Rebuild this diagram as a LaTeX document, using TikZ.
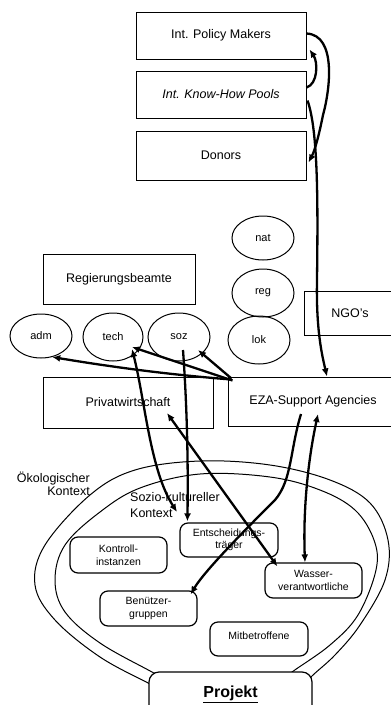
\documentclass[tikz,border=0pt]{standalone}
\usepackage{fontspec}
\setmainfont{Liberation Sans}
\usetikzlibrary{shapes.geometric,arrows.meta,calc}
\begin{document}
\begin{tikzpicture}[x=1pt,y=-1pt,
 sq/.style={draw,line width=1pt,inner sep=0pt,font=\fontsize{12.5}{14}\selectfont},
 ov/.style={draw,ellipse,line width=1pt,inner sep=0pt,font=\fontsize{11}{13}\selectfont},
 rb/.style={draw,rounded corners=8pt,line width=1.2pt,inner sep=0pt,align=center,fill=white,
   font=\fontsize{10.5}{12.5}\selectfont},
 ar/.style={line width=2.3pt,-{Latex[length=8pt,width=7pt]}},
 dar/.style={line width=2.3pt,{Latex[length=8pt,width=7pt]}-{Latex[length=8pt,width=7pt]}},
 ctx/.style={inner sep=0pt}]
\useasboundingbox (0,0) rectangle (391,705);

% top boxes
\node[sq,minimum width=170pt,minimum height=47pt] (pm) at (221,35.5) {Int. Policy Makers};
\node[sq,minimum width=170pt,minimum height=47pt] (kh) at (221,94.5) {\itshape Int. Know-How Pools};
\node[sq,minimum width=170pt,minimum height=49pt] (don) at (221,155.5) {Donors};

% right ovals
\node[ov,minimum width=62pt,minimum height=44pt] (nat) at (263,238) {nat};
\node[ov,minimum width=62pt,minimum height=48pt] (reg) at (263,293) {reg};
\node[ov,minimum width=62pt,minimum height=48pt] (lok) at (259,340) {lok};
\node[sq,minimum width=92pt,minimum height=44pt] (ngo) at (350,313) {NGO's};

% left
\node[sq,minimum width=152pt,minimum height=50pt] (regb) at (119,279) {Regierungsbeamte};
\node[ov,minimum width=62pt,minimum height=44pt] (adm) at (41,336) {adm};
\node[ov,minimum width=60pt,minimum height=48pt] (tech) at (113,337) {tech};
\node[ov,minimum width=62pt,minimum height=48pt] (soz) at (179,337) {soz};

\node[sq,minimum width=170pt,minimum height=51pt] (priv) at (128,402.5) {Privatwirtschaft};
\node[sq,minimum width=170pt,minimum height=49pt] (eza) at (313,401.5) {EZA-Support Agencies};

% context ellipses
\draw[line width=1pt] plot[smooth,tension=0.6] coordinates {(170,695) (150,684) (100,657) (55,620) (35,585) (45,545) (90,495) (135,470) (200,461) (270,465) (330,480) (370,503) (388,540) (385,580) (360,625) (335,655) (312,676) (300,690)};
\draw[line width=1pt] plot[smooth,tension=0.6] coordinates {(170,682) (152,672) (100,643) (65,612) (55,580) (65,545) (100,512) (140,488) (200,474) (270,477) (320,490) (355,510) (374,540) (376,570) (358,615) (330,645) (292,672) (280,682)};

\node[ctx,anchor=east,align=right,font=\fontsize{12.5}{13.5}\selectfont] (oeko) at (90,484) {Ökologischer\\Kontext};
\node[ctx,anchor=west,align=left,font=\fontsize{12.5}{16}\selectfont] (sozio) at (130,505) {Sozio-kultureller\\Kontext};

% inner boxes
\node[rb,minimum width=97pt,minimum height=36pt] (kon) at (118.5,555) {Kontroll-\\instanzen};
\node[rb,minimum width=98pt,minimum height=34pt] (ent) at (229,540) {Entscheidungs-\\träger};
\node[rb,minimum width=97pt,minimum height=35pt] (was) at (313.5,580.5) {Wasser-\\verantwortliche};
\node[rb,minimum width=97pt,minimum height=35pt] (ben) at (148.5,608.5) {Benützer-\\gruppen};
\node[rb,minimum width=98pt,minimum height=34pt] (mit) at (259,639) {\raisebox{7pt}{Mitbetroffene}};
\node[draw,rounded corners=10pt,fill=white,line width=1.2pt,minimum width=163pt,minimum height=46pt,
  font=\bfseries\fontsize{16}{18}\selectfont] (proj) at (230.5,695) {\raisebox{6pt}{\underline{Projekt}}};

% connectors
\draw[ar] ($(pm.east)+(0,-2)$) .. controls (337,35) and (330,90) .. (323,115) .. controls (319,135) and (315,150) .. ($(don.east)+(2,7)$);
\draw[ar] ($(kh.east)+(0,-7)$) .. controls (318,84) and (318,62) .. ($(pm.east)+(3,14)$);
\draw[ar] ($(kh.east)+(1,6)$) .. controls (318,130) and (318,200) .. (317,280) .. controls (316,330) and (322,355) .. ($(eza.north)+(14,0)$);

\draw[ar] ($(eza.north west)+(4,3)$) .. controls (160,374) and (100,365) .. (adm.-62);
\draw[ar] ($(eza.north west)+(5,4)$) -- ($(tech.center)+(19,10)$);
\draw[ar] ($(eza.north west)+(4,2)$) -- ($(soz.center)+(19,13)$);

\draw[dar] ($(tech.center)+(19,12)$) .. controls (145,400) and (150,470) .. ($(sozio.west)+(47,7)$);
\draw[ar] ($(soz.center)+(4,13)$) .. controls (188,420) and (188,480) .. ($(ent.north west)+(8,-1)$);
\draw[dar] ($(priv.center)+(39,10.5)$) -- ($(was.north west)+(13,4)$);
\draw[ar] ($(eza.center)+(-12,12.5)$) .. controls (290,450) and (292,480) .. (275,500) .. controls (250,525) and (205,570) .. ($(ben.north east)+(-7,4)$);
\draw[dar] ($(eza.center)+(5,12.5)$) .. controls (308,460) and (303,510) .. ($(was.north)+(-8.5,0)$);
\end{tikzpicture}
\end{document}
